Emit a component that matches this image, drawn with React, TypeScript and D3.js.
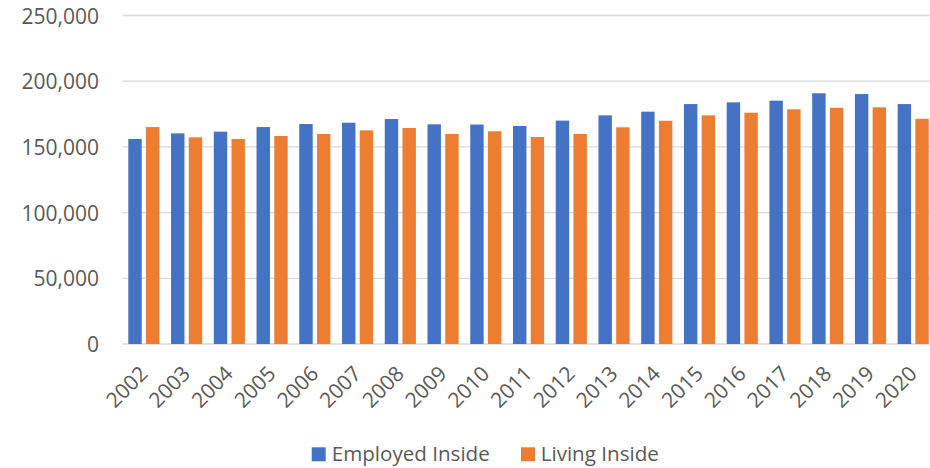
import React from "react";
import * as d3 from "d3";

const years = [
  "2002", "2003", "2004", "2005", "2006", "2007", "2008", "2009", "2010", "2011",
  "2012", "2013", "2014", "2015", "2016", "2017", "2018", "2019", "2020",
];
const employedInside = [
  156000, 160300, 161600, 165100, 167400, 168400, 171200, 167200, 167000, 165900,
  170000, 174000, 176800, 182600, 183900, 185200, 190800, 190200, 182600,
];
const livingInside = [
  165100, 157300, 156000, 158300, 159800, 162600, 164400, 159800, 161900, 157500,
  159800, 164900, 169900, 174000, 176000, 178600, 179800, 180100, 171400,
];
const yTicks = [0, 50000, 100000, 150000, 200000, 250000];
const seriesNames = ["Employed Inside", "Living Inside"];
const seriesColors = ["#4472C4", "#ED7D31"];

const W = 930;
const H = 468;
const FONT = "'Open Sans', sans-serif";
const TEXT = "#595959";

export default function App() {
  const y = d3.scaleLinear().domain([0, 250000]).range([344, 15.5]);
  const x0 = d3
    .scaleBand<string>()
    .domain(years)
    .range([122.5, 934.6])
    .paddingInner(0.272)
    .paddingOuter(0.136);
  const x1 = d3
    .scaleBand<string>()
    .domain(seriesNames)
    .range([0, x0.bandwidth()])
    .paddingInner(0.243);
  const fmt = d3.format(",");
  const values = [employedInside, livingInside];

  return (
    <svg
      width={W}
      height={H}
      style={{ position: "absolute", left: 0, top: 0, background: "#fff" }}
      fontFamily={FONT}
    >
      {yTicks.map((t) => (
        <g key={t}>
          <line x1={122.5} x2={W} y1={y(t)} y2={y(t)} stroke="#D9D9D9" strokeWidth={1.3} />
          <text
            x={99}
            y={y(t)}
            textAnchor="end"
            dominantBaseline="central"
            fontSize={21}
            fill={TEXT}
          >
            {fmt(t)}
          </text>
        </g>
      ))}
      {years.map((yr, i) => (
        <g key={yr} transform={`translate(${x0(yr)},0)`}>
          {seriesNames.map((s, k) => (
            <rect
              key={s}
              x={x1(s)}
              y={y(values[k][i])}
              width={x1.bandwidth()}
              height={y(0) - y(values[k][i])}
              fill={seriesColors[k]}
            />
          ))}
        </g>
      ))}
      {years.map((yr) => {
        const cx = (x0(yr) as number) + x0.bandwidth() / 2;
        return (
          <text
            key={yr}
            transform={`translate(${cx + 5},${375}) rotate(-45)`}
            textAnchor="end"
            fontSize={21}
            fill={TEXT}
          >
            {yr}
          </text>
        );
      })}
      <g>
        <rect x={311.7} y={447.3} width={14} height={14} fill={seriesColors[0]} />
        <text x={331.7} y={460.5} fontSize={20.6} fill={TEXT}>
          {seriesNames[0]}
        </text>
        <rect x={521} y={447.3} width={14} height={14} fill={seriesColors[1]} />
        <text x={540.7} y={460.5} fontSize={20.6} fill={TEXT}>
          {seriesNames[1]}
        </text>
      </g>
    </svg>
  );
}
